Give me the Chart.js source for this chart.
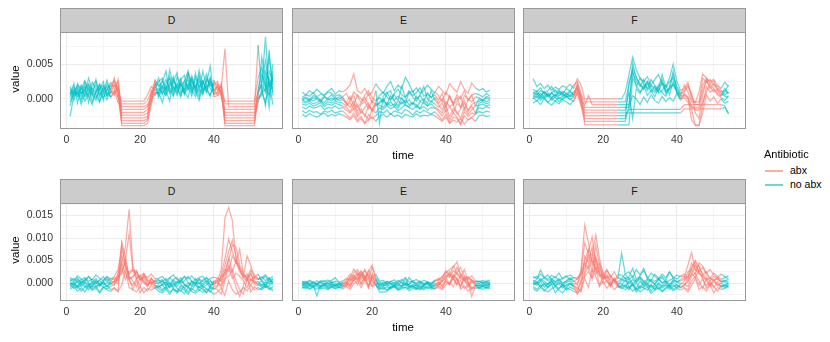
<!DOCTYPE html>
<html>
<head>
<meta charset="utf-8">
<script src="https://cdn.jsdelivr.net/npm/chart.js@4.4.0/dist/chart.umd.min.js"></script>
<style>
  body { margin: 0; background: #fff; font-family: "Liberation Sans", Arial, sans-serif; }
  #page { position: relative; width: 830px; height: 342px; overflow: hidden; }
  canvas, .strip, .lbl { position: absolute; }
  .strip { box-sizing: border-box; width: 223px; height: 25px; background: #CCCCCC; border: 1px solid #999;
           text-align: center; line-height: 23px; font-size: 10.5px; color: #1A1A1A; }
  .lbl { color: #000; font-size: 11.5px; white-space: nowrap; }
  .key { position: absolute; width: 18px; height: 2px; }
</style>
</head>
<body>
<div id="page"></div>
<script>
// -------------------------------
// DATA  (values in units of 1e-4, one row per subject)
// -------------------------------
const panelNames = ["D", "E", "F"];

// antibiotic periods (time from, time to) for each panel
const abxD = [[12, 24], [40, 52]];
const abxE = [[12, 21], [37, 48]];
const abxF = [[12, 24], [41, 52]];

const xMajor = [0, 20, 40];
const xMinor = [10, 30, 50];
const xLabels = ["0", "20", "40"];

const topYMajor = [0, 0.005];
const topYMinor = [-0.0025, 0.0025, 0.0075];
const topYLabels = ["0.000", "0.005"];

const bottomYMajor = [0, 0.005, 0.010, 0.015];
const bottomYMinor = [-0.0025, 0.0025, 0.0075, 0.0125, 0.0175];
const bottomYLabels = ["0.000", "0.005", "0.010", "0.015"];

const dTop = [
  [8,14,5,20,11,3,16,9,22,12,6,15, 24,10,-3,-3,-3,-3,-3,-3,-3,6,18,12, 15,8,22,30,11,19,5,26,14,33,20,9,40,17,24,12, 18,9,-3,-3,-3,-3,-3,-3,-3,-3,-3,30, 45,12,60,20],
  [-4,10,18,2,25,13,7,-2,15,20,4,10, 30,2,-7,-7,-7,-7,-7,-7,-7,-2,10,25, 5,18,12,-3,28,16,22,8,35,14,3,19,27,10,30,6, 10,22,-7,-7,-7,-7,-7,-7,-7,-7,-7,10, 20,89,5,35],
  [-25,5,12,-8,9,30,12,6,-5,18,10,3, 12,-5,-11,-11,-11,-11,-11,-11,-11,-8,3,20, 25,30,10,42,18,5,21,12,38,24,16,30,8,22,47,3, 5,15,72,-11,-11,-11,-11,-11,-11,-11,-11,77, 10,-5,25,10],
  [15,3,22,10,-3,8,19,25,11,2,14,20, 18,25,-15,-15,-15,-15,-15,-15,-15,-10,-2,8, 10,-5,15,20,32,11,25,6,17,29,13,-2,21,36,15,9, 20,5,-15,-15,-15,-15,-15,-15,-15,-15,-15,5, 60,30,-12,40],
  [2,18,7,14,26,5,-8,12,20,8,-1,11, 5,20,-19,-19,-19,-19,-19,-19,-19,-15,5,15, 30,12,5,18,25,38,9,14,22,4,31,17,26,12,5,20, 12,18,-19,-19,-19,-19,-19,-19,-19,-19,-19,2, 8,15,70,5],
  [10,-2,15,8,12,20,4,28,6,13,18,2, 10,28,-23,-23,-23,-23,-23,-23,-23,-20,-5,28, 18,24,40,8,15,20,30,11,2,25,16,35,10,28,19,22, 25,3,-23,-23,-23,-23,-23,-23,-23,-23,-23,8, 25,55,18,30],
  [5,22,-6,18,3,10,24,14,-3,9,27,8, 20,15,-27,-27,-27,-27,-27,-27,-27,-25,8,20, 2,15,28,14,5,32,19,25,40,12,18,3,24,15,30,8, 8,20,-27,-27,-27,-27,-27,-27,-27,-27,-27,-5, 15,-10,40,25],
  [18,6,10,-3,16,22,9,2,14,25,5,19, 28,8,-31,-31,-31,-31,-31,-31,-31,-28,12,5, 12,20,6,24,17,9,28,34,13,20,8,26,12,18,4,27, 15,10,-31,-31,-31,-31,-31,-31,-31,-31,-31,15, 35,20,5,50],
  [-10,12,3,9,19,-5,13,20,4,16,12,24, 15,3,-35,-35,-35,-35,-35,-35,-35,-30,-10,18, 22,6,18,10,26,15,3,20,28,9,37,14,6,31,20,15, 5,12,-35,-35,-35,-35,-35,-35,-35,-35,-35,0, 5,40,25,-8],
  [12,8,20,15,5,17,-4,10,18,-2,22,13, 8,18,-38,-38,-38,-38,-38,-38,-38,-35,0,10, 8,27,14,32,4,22,16,9,20,30,12,41,18,10,25,20, 22,15,-38,-38,-38,-38,-38,-38,-38,-38,-38,12, 20,10,30,15]
];

const eTop = [
  [10,6,12,8,14,9,5,11,15,7,12,10, 14,20,36,12,8,15,5,10,22, 14,8,18,25,12,20,15,31,22,10,16,8,12,20,14,9, 18,12,6,22,15,10,25,14,8,23,16, 12,15,10,13],
  [2,6,4,9,3,7,5,10,8,4,6,3, 8,-2,10,4,-5,6,12,2,-3, 5,10,3,-2,8,14,6,2,12,5,9,16,4,7,2,10, 5,-4,10,2,-8,6,0,12,-2,5,8, 6,3,8,4],
  [0,3,-1,5,2,-2,4,1,6,0,3,2, -5,4,-10,6,0,-3,8,-6,12, -35,4,10,0,6,-2,18,3,8,12,0,5,-3,9,2,6, -2,8,-10,4,-6,2,-12,5,0,-4,3, 2,-2,4,1],
  [-2,1,-3,2,0,-4,3,-1,1,-2,0,2, -8,-3,5,-12,-6,2,-9,-15,-4, 2,-5,8,12,-2,4,0,-6,10,3,-3,6,18,0,-4,2, -6,0,-12,5,-8,-3,4,-15,-2,6,-10, 0,-3,2,-1],
  [-1,-4,0,-3,1,-2,-5,0,-3,2,-2,-1, -6,-12,-3,-18,-8,-4,-14,-2,-10, -4,0,-8,5,-3,-10,2,-6,-1,-8,4,-3,0,-6,12,-2, -8,-16,-4,-10,-20,-6,-12,-2,-18,-8,-5, -3,-1,-4,-2],
  [-4,-6,-3,-7,-5,-2,-8,-4,-6,-3,-5,-6, -10,-5,-15,-8,-20,-12,-6,-18,-9, -6,-2,-9,-4,-11,-3,-7,-1,-8,-5,-12,-4,-6,-10,-3,-7, -12,-6,-18,-10,-8,-22,-14,-6,-16,-10,-20, -6,-4,-7,-5],
  [-7,-9,-6,-10,-8,-5,-11,-7,-9,-6,-8,-10, -12,-18,-8,-22,-14,-25,-10,-16,-6, -9,-12,-5,-10,-7,-13,-4,-9,-11,-6,-8,-14,-3,-10,-7,-12, -15,-20,-10,-25,-14,-18,-28,-12,-22,-16,-10, -9,-7,-10,-8],
  [-11,-14,-10,-13,-12,-9,-15,-12,-13,-10,-14,-12, -16,-20,-14,-25,-18,-22,-30,-15,-20, -12,-15,-9,-14,-11,-17,-13,-8,-12,-15,-10,-14,-11,-16,-12,-13, -18,-24,-16,-30,-20,-26,-35,-18,-25,-20,-22, -12,-14,-11,-13],
  [-17,-20,-16,-19,-18,-22,-17,-19,-16,-20,-18,-17, -22,-28,-20,-30,-25,-35,-22,-28,-24, -18,-20,-16,-22,-17,-19,-21,-15,-18,-23,-17,-20,-16,-19,-22,-18, -24,-30,-22,-34,-26,-28,-37,-24,-30,-26,-22, -18,-20,-17,-19],
  [-22,-25,-21,-24,-26,-23,-20,-25,-22,-24,-21,-23, -26,-30,-24,-33,-28,-35,-30,-26,-32, -24,-22,-26,-21,-25,-23,-27,-22,-24,-26,-21,-25,-23,-24,-22,-24, -28,-32,-26,-35,-30,-33,-28,-36,-30,-27,-32, -24,-23,-25,-24]
];

const fTop = [
  [29,18,22,15,20,12,17,14,19,16,21,15, 29,20,0,0,0,0,0,0,0,0,0,0, 0,10,35,60,42,30,25,32,20,28,35,22,18,30,50,25,12, 15,24,0,-5,10,36,30,25,28,20,15, 24,18],
  [14,10,16,8,12,18,9,13,7,15,11,20, 25,8,-4,-4,-4,-4,-4,-4,-4,-4,-4,-4, -4,-4,20,45,30,22,15,25,18,12,20,28,10,15,22,12,5, 20,10,-4,-4,-4,30,24,28,20,15,10, 12,8],
  [8,12,5,10,4,9,13,6,11,8,5,10, 18,-2,-8,5,-8,-8,-8,-8,-8,-8,-8,-8, -8,-8,-8,38,25,18,28,12,20,16,10,24,8,14,35,18,8, 10,18,5,-8,-8,20,28,15,22,18,12, 6,10],
  [5,2,8,3,7,1,6,4,9,2,5,3, 12,5,-12,-12,-12,-12,-12,-12,-12,-12,-12,-12, -12,-12,-12,52,30,20,14,22,10,18,8,12,20,6,25,10,2, 5,0,-12,-12,-12,12,25,18,10,14,8, 4,2],
  [2,-3,4,0,6,-2,3,-4,1,5,-1,3, 20,0,-16,-16,-16,-16,-16,-16,-16,-16,-16,-16, -16,-16,10,-28,15,8,20,5,12,3,16,9,4,18,40,8,-2, 8,3,-10,-16,-16,-5,10,22,15,6,2, -2,5],
  [10,6,12,8,3,9,5,11,7,4,10,6, 15,-5,-20,-20,-20,-20,-20,-20,-20,-20,-20,-20, -20,-20,-20,-20,-20,-20,-20,-20,-20,-20,-20,-20,-20,-20,-20,-20,-20, -14,-14,-14,-14,-14,-14,-14,-14,-14,-14,-14, -12,-20],
  [0,4,-2,3,-5,1,-3,2,-1,4,0,-4, 10,-8,-24,-24,-24,-24,-24,-24,-24,-24,-24,-24, -24,-24,-15,-15,-15,-15,-15,-15,-15,-15,-15,-15,-15,-15,-15,-15,-15, -8,-8,-8,-8,-8,-8,-8,-8,-8,-8,-8, -10,-22],
  [6,9,3,11,5,8,2,10,4,7,12,5, 22,3,-28,-28,-28,-28,-28,-28,-28,-28,-28,-28, -28,-28,25,40,18,30,22,15,28,20,12,35,16,25,30,15,6, 12,20,8,-20,-28,5,30,22,26,12,5, 15,8],
  [-6,-2,-8,0,-5,-9,-3,-7,-1,-4,-8,-2, 8,-10,-32,-32,-32,-32,-32,-32,-32,-32,-32,-32, -32,-32,-10,5,0,-8,3,-5,6,-2,-6,4,-4,2,-3,8,0, 2,-5,-15,-38,-38,-20,6,-3,3,-6,0, -6,-3],
  [3,7,1,5,9,2,6,0,4,8,3,7, 16,2,-37,-37,-37,-37,-37,-37,-37,-37,-37,-37, -37,-37,-37,30,20,10,16,25,14,9,18,22,12,15,20,10,4, 6,2,-30,-37,-37,-10,18,10,14,8,4, 10,20]
];

const dBottom = [
  [-3,2,-8,5,0,-6,3,-2,6,-4,1,-1, 4,20,45,80,164,40,10,18,5,-4,2,-6, -8,-3,2,-10,-5,4,-2,-12,0,-6,3,-9,-1,5,-4,-2, 3,30,145,168,140,50,25,12,20,8,2,-3, 6,-4,10,2],
  [-10,-5,-12,-3,-8,-15,-6,-11,-2,-9,-13,-7, -5,20,88,40,8,15,25,10,0,-8,12,-3, -12,-18,-8,-20,-14,-22,-10,-16,-25,-12,-19,-8,-15,-21,-11,-14, -8,20,55,98,70,45,30,15,8,20,5,-2, -10,-5,-14,-8],
  [5,10,2,8,12,4,9,-1,7,14,3,11, 8,15,20,50,110,30,25,8,15,3,10,2, 6,2,10,-3,8,12,0,5,15,4,-2,9,3,11,6,-5, 12,2,25,50,85,80,40,20,10,5,15,8, 8,15,2,10],
  [-2,-12,-6,-18,-9,-4,-14,-7,-20,-10,-5,-15, -10,-20,90,60,12,-15,5,-22,-10,-18,-5,-12, -5,-15,-9,-2,-13,-18,-6,-11,-20,-8,-3,-16,-10,-22,-7,-12, -15,-25,5,40,20,-10,-30,-5,15,-20,-8,-15, -12,-3,-9,-15],
  [8,3,12,0,6,15,2,10,-3,7,13,4, 12,5,60,35,20,28,10,15,22,8,-2,5, 0,8,-5,12,3,-8,6,15,1,-4,10,-2,7,13,-6,4, 5,10,40,70,95,60,30,15,60,40,10,8, 14,5,12,0],
  [-6,-1,-9,2,-4,-11,0,-7,-3,3,-8,-2, -3,12,35,8,25,30,18,6,12,-5,3,-8, -10,-4,-14,-7,-1,-12,-18,-5,-9,-15,-3,-11,-6,-13,-20,-8, -5,15,20,55,25,50,35,10,5,25,-3,-6, -3,-10,-6,2],
  [12,6,16,9,3,14,7,18,10,5,15,8, 15,30,75,45,10,12,28,8,18,12,20,10, 10,15,5,12,18,8,3,14,9,16,6,12,15,2,10,13, 10,5,30,25,60,45,75,20,12,30,18,10, 12,18,8,15],
  [-14,-8,-18,-11,-20,-5,-16,-12,-22,-9,-15,-19, -12,-18,-5,30,-10,-15,-20,-8,-22,-12,-16,-10, -18,-22,-14,-25,-12,-20,-16,-24,-10,-19,-23,-15,-21,-13,-18,-25, -20,-12,-28,5,-15,-25,-20,-10,-18,-5,-15,-10, -15,-8,-12,-18],
  [0,-4,4,-8,2,-2,-10,5,-5,1,-7,3, 2,8,25,50,15,5,-8,12,3,-5,8,0, -2,5,-6,2,-9,-1,6,-4,-8,3,-3,1,-10,-5,4,0, 0,-5,18,35,10,22,15,5,-10,8,0,4, -6,2,-2,8],
  [4,-6,8,-2,10,0,-5,6,-8,2,9,-3, 5,-2,45,22,5,-5,10,-8,20,2,-3,6, 8,-5,3,-10,6,0,12,-3,-8,5,-1,8,-6,2,-12,4, 4,-10,10,15,30,5,-15,-25,8,-5,12,20, 4,-8,6,-3]
];

const eBottom = [
  [2,-3,4,-1,5,0,-2,3,6,12,1,-4, 5,12,31,18,22,10,25,40,8, -5,2,-3,4,-1,6,0,-4,12,3,-2,5,-1,2,-3,4, 8,15,22,30,35,47,18,10,15,5,2, 3,-1,5,0],
  [-6,-2,-8,-4,-29,-5,-1,-7,-3,-9,-4,-6, -2,10,5,15,28,12,20,6,-3, -20,-20,-19,-8,-4,-10,-6,-2,-8,-5,-12,-3,-7,-1,-9,-6, -3,5,18,12,28,20,10,6,-4,8,-2, -8,-4,-6,-3],
  [-10,-6,-12,-8,-4,-11,-7,-13,-9,-5,-10,-8, -6,4,12,25,8,30,15,3,-5, -12,-8,-15,-10,-6,-13,-9,-4,-11,-7,-14,-8,-12,-6,-10,-9, -5,10,25,15,38,22,12,30,5,-30,-8, -10,-6,-12,-8],
  [1,4,-2,3,-4,2,5,-1,3,0,-3,2, 8,20,14,6,18,28,10,35,12, 2,-2,4,0,-5,3,8,1,-3,5,-1,3,-4,2,0,6, 10,4,15,20,8,35,18,5,12,6,3, 4,0,2,-2],
  [-3,-7,-1,-5,-2,-8,-4,0,-6,-3,-7,-2, 3,-5,18,8,25,15,-8,22,5, -4,-8,-2,-11,-5,-1,-7,10,-9,-3,-6,-12,-4,0,-8,-5, 2,-6,8,25,12,-5,20,8,-10,4,-6, -3,-8,-1,-5],
  [-8,-12,-6,-10,-14,-9,-5,-11,-7,-13,-8,-10, -4,-10,8,20,-2,12,-6,14,0, -10,-14,-8,-12,-6,-16,-10,-9,-13,-7,-11,-15,-8,-12,-10,-14, -6,-12,5,-3,18,10,-8,15,2,-12,-4, -12,-8,-10,-6],
  [4,1,6,2,-1,5,3,7,0,4,2,5, 10,6,22,30,15,8,28,12,20, 4,6,0,3,7,-1,5,12,2,4,8,1,6,3,-2,5, 6,12,28,18,10,22,35,14,8,16,5, 3,6,2,7],
  [-5,0,-4,-8,-1,-6,-3,-9,-2,-5,0,-7, -2,15,10,-4,20,5,12,-6,8, -8,-3,-6,-1,-9,-4,-7,-2,-5,-10,-3,-8,-6,-1,-7,-4, -4,2,12,-2,18,6,-8,10,0,-15,-6, -5,-2,-7,-3],
  [-2,2,-5,0,-3,3,-1,-4,1,-6,-2,0, 0,-6,6,12,-3,18,4,-8,-2, -1,-5,3,-3,1,-6,2,-2,-4,4,-8,0,-3,2,-5,-1, 0,-8,4,-4,10,-2,6,-12,-5,3,-1, -1,3,-4,1],
  [-12,-9,-14,-10,-7,-13,-11,-15,-8,-12,-10,-14, -8,-14,-2,5,-10,8,-12,15,-6, -14,-11,-16,-12,-9,-15,-13,-10,-17,-12,-14,-11,-15,-9,-13,-12, -10,-15,-4,2,-8,12,-14,-6,-18,-10,-12, -11,-14,-9,-13]
];

const fBottom = [
  [3,8,29,12,5,10,2,7,-1,4,9,6, -5,30,129,90,40,60,25,10,15,8,5,2, 10,20,8,15,3,12,5,-2,8,4,10,0,6,-3,5,2,8, 12,40,68,30,20,15,8,12,5,10,3, 6,2],
  [-5,0,-8,-3,-10,-2,-6,-12,-4,-7,-1,-9, -25,-10,60,45,80,30,15,20,5,-3,8,-5, -8,-4,-12,-2,-15,-6,-10,-3,-18,-7,-2,-11,-5,-14,-8,-4,-10, -6,10,35,48,22,15,5,-8,3,-2,-10, -4,-8],
  [10,15,6,12,18,8,14,5,11,16,7,13, 8,20,50,75,60,107,55,18,30,12,25,10, 66,20,25,12,30,18,33,10,22,15,8,20,12,25,10,18,14, 15,5,20,40,25,35,18,10,22,15,8, 12,16],
  [-8,-14,-5,-18,-10,-3,-22,-12,-6,-16,-9,-13, -20,5,25,70,103,45,20,8,15,-5,10,-8, -12,-6,-15,-3,-20,-8,-11,-16,-4,-13,-7,-18,-10,-5,-14,-9,-6, -10,-15,5,15,-5,10,-12,0,-8,-18,-5, -10,-6],
  [2,-2,6,0,-4,4,-1,3,-6,1,5,-3, 0,15,35,60,25,85,40,12,20,2,8,-4, 5,12,-2,8,1,10,-5,6,3,-3,9,0,4,-6,7,2,-1, 4,25,30,50,35,20,12,5,15,8,2, 3,-2],
  [-12,-18,-10,-15,-20,-13,-8,-16,-22,-11,-14,-19, -22,-15,10,-10,30,15,-8,5,-12,0,-15,-6, -10,-15,-8,-18,-12,-20,-14,-9,-23,-16,-11,-19,-13,-8,-17,-12,-15, -12,-20,-5,10,-15,-8,-18,-3,-22,-10,-14, -12,-8],
  [6,1,9,4,-2,7,3,10,0,5,12,2, 10,25,90,65,50,30,45,22,10,18,4,12, 8,3,11,-1,6,14,2,9,5,-2,7,12,1,6,10,3,5, 8,15,45,28,40,18,25,10,6,12,4, 5,8],
  [-3,3,-7,-1,-9,2,-5,-2,-11,-4,0,-6, -10,-20,20,40,8,55,20,-2,5,-8,3,-10, -5,8,-9,-2,-12,4,-7,0,-10,-3,-14,-6,2,-8,-4,-11,-2, -2,-8,15,22,5,-12,10,-4,8,-6,0, -7,-3],
  [15,10,20,13,8,17,12,22,9,14,18,11, 12,18,45,30,60,20,35,10,28,15,6,18, 18,10,14,33,8,16,28,12,5,20,11,15,7,24,13,9,16, 20,12,30,20,45,38,22,30,18,12,20, 14,9],
  [0,-5,3,-9,-2,5,-7,1,-4,-12,-1,-6, -15,5,15,25,12,35,-5,15,3,-6,10,-2, -2,-10,5,-6,0,-13,3,-8,-4,-15,1,-7,-3,-9,2,-5,-11, -4,2,22,12,30,8,-6,5,-10,3,-8, -5,0]
];

// -------------------------------
// STYLE
// -------------------------------
const ABX_COLOR = "rgba(248,118,109,0.6)";
const NOABX_COLOR = "rgba(0,191,196,0.6)";
const FONT = "'Liberation Sans', Arial, sans-serif";
const PANEL_W = 223;
const PANEL_LEFTS = [60, 292, 523];

const rows = [
  { top: 32, height: 97, stripTop: 8, yMin: -0.0043, yMax: 0.0096, major: topYMajor, minor: topYMinor, labels: topYLabels,
    series: [dTop, eTop, fTop] },
  { top: 203, height: 98, stripTop: 179, yMin: -0.0040, yMax: 0.0178, major: bottomYMajor, minor: bottomYMinor, labels: bottomYLabels,
    series: [dBottom, eBottom, fBottom] }
];
const periods = [abxD, abxE, abxF];

const page = document.getElementById("page");

function addLabel(text, css) {
  const el = document.createElement("div");
  el.className = "lbl";
  el.textContent = text;
  Object.assign(el.style, css);
  page.appendChild(el);
  return el;
}

// split each subject into its antibiotic and no-antibiotic stretches
function buildSets(series, abx) {
  const inAbx = t => abx.some(([a, b]) => t >= a && t <= b);
  const outAbx = t => !abx.some(([a, b]) => t > a && t < b);
  const sets = [];
  series.forEach(vals => sets.push({ data: vals.map((v, i) => inAbx(i + 1) ? v / 1e4 : null), borderColor: ABX_COLOR }));
  series.forEach(vals => sets.push({ data: vals.map((v, i) => outAbx(i + 1) ? v / 1e4 : null), borderColor: NOABX_COLOR }));
  return sets;
}

const panelBorder = {
  id: "panelBorder",
  afterDraw(chart) {
    const a = chart.chartArea, ctx = chart.ctx;
    ctx.save();
    ctx.strokeStyle = "#999";
    ctx.lineWidth = 1;
    ctx.strokeRect(a.left + 0.5, a.top + 0.5, a.right - a.left - 1, a.bottom - a.top - 1);
    ctx.restore();
  }
};

// -------------------------------
// CHARTS
// -------------------------------
rows.forEach(row => {
  panelNames.forEach((name, p) => {
    const axisW = p === 0 ? 60 : 1;
    const xAxisH = 22;
    const canvas = document.createElement("canvas");
    canvas.width = axisW + PANEL_W + 1;
    canvas.height = 1 + row.height + xAxisH;
    canvas.style.left = (PANEL_LEFTS[p] - axisW) + "px";
    canvas.style.top = (row.top - 1) + "px";
    page.appendChild(canvas);

    const strip = document.createElement("div");
    strip.className = "strip";
    strip.textContent = name;
    strip.style.left = PANEL_LEFTS[p] + "px";
    strip.style.top = row.stripTop + "px";
    page.appendChild(strip);

    const series = row.series[p];
    const times = series[0].map((_, i) => i + 1);
    const yTicks = row.major.concat(row.minor).sort((a, b) => a - b);
    const xTicks = xMajor.concat(xMinor).sort((a, b) => a - b);

    new Chart(canvas.getContext("2d"), {
      type: "line",
      data: { labels: times, datasets: buildSets(series, periods[p]) },
      options: {
        responsive: false,
        animation: false,
        devicePixelRatio: 1,
        spanGaps: false,
        layout: { autoPadding: false, padding: { top: 1, right: 1, left: 0, bottom: 0 } },
        elements: { point: { radius: 0 }, line: { borderWidth: 1.25, tension: 0 } },
        plugins: { legend: { display: false }, tooltip: { enabled: false } },
        scales: {
          x: {
            type: "linear", min: -1.75, max: 58.75,
            afterBuildTicks: s => { s.ticks = xTicks.map(v => ({ value: v })); },
            afterFit: s => { s.height = xAxisH; s.paddingLeft = 0; s.paddingRight = 0; },
            border: { display: false },
            grid: { drawTicks: false, lineWidth: 1, color: c => xMajor.includes(c.tick.value) ? "#EBEBEB" : "#F5F5F5" },
            ticks: {
              autoSkip: false, maxRotation: 0, padding: 5, color: "#333", font: { family: FONT, size: 10.5 },
              callback: v => xMajor.includes(v) ? xLabels[xMajor.indexOf(v)] : ""
            }
          },
          y: {
            min: row.yMin, max: row.yMax,
            afterBuildTicks: s => { s.ticks = yTicks.map(v => ({ value: v })); },
            afterFit: s => { s.width = axisW; s.paddingTop = 0; s.paddingBottom = 0; },
            border: { display: false },
            grid: { drawTicks: false, lineWidth: 1, color: c => row.major.includes(c.tick.value) ? "#EBEBEB" : "#F5F5F5" },
            ticks: {
              display: p === 0, autoSkip: false, padding: 7, color: "#333", font: { family: FONT, size: 10.5 },
              callback: v => row.major.includes(v) ? row.labels[row.major.indexOf(v)] : ""
            }
          }
        }
      },
      plugins: [panelBorder]
    });
  });

  // axis titles
  const mid = row.top + row.height / 2;
  addLabel("value", { left: "1px", top: (mid - 8) + "px", width: "28px", textAlign: "center", transform: "rotate(-90deg)" });
  addLabel("time", { left: "383px", top: (row.top + row.height + 20) + "px", width: "40px", textAlign: "center" });
});

// -------------------------------
// LEGEND
// -------------------------------
addLabel("Antibiotic", { left: "764px", top: "148px", fontSize: "11px" });
[["abx", ABX_COLOR, 170], ["no abx", NOABX_COLOR, 184]].forEach(([txt, col, y]) => {
  const k = document.createElement("div");
  k.className = "key";
  k.style.left = "765px";
  k.style.top = y + "px";
  k.style.background = col;
  page.appendChild(k);
  addLabel(txt, { left: "790px", top: (y - 6) + "px", fontSize: "10.5px" });
});
</script>
</body>
</html>
